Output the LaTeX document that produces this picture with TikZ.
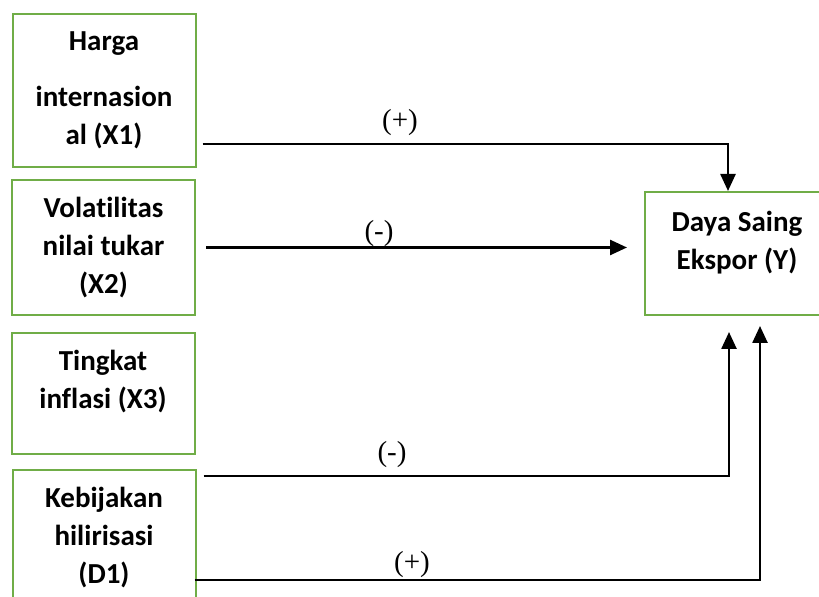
\documentclass[tikz,border=0pt]{standalone}
\usepackage{fontspec}
\setmainfont{Carlito}[Ligatures=NoCommon]
\newfontfamily\signfont{Liberation Serif}
\usetikzlibrary{arrows.meta}
\definecolor{boxgreen}{HTML}{70AD47}

\begin{document}
\begin{tikzpicture}[x=0.5pt, y=-0.5pt,
    varbox/.style={draw=boxgreen, line width=1pt, align=center, minimum width=91.5pt,
        font=\fontsize{14.5}{19}\selectfont\bfseries},
    link/.style={line width=1.25pt, -{Triangle[length=8.5pt, width=7.5pt]}},
    sign/.style={font=\signfont\fontsize{14.5}{16}\selectfont}]
    \path[use as bounding box, clip] (0, 0) rectangle (819, 597);

    % The variables
    \node[varbox, minimum height=76.5pt] (x1) at (104, 90.5) {Harga\\[9pt]internasion\\al (X1)};
    \node[varbox, minimum height=67.5pt] (x2) at (103.5, 247.5) {Volatilitas\\nilai tukar\\(X2)};
    \node[varbox, minimum height=60.5pt, text depth=14.5pt] (x3) at (103, 393.5) {Tingkat\\inflasi (X3)};
    \node[varbox, minimum height=68pt] (d1) at (104, 538) {Kebijakan\\hilirisasi\\(D1)};
    \node[varbox, minimum width=92pt, minimum height=61.5pt, text depth=13pt] (y) at (737, 253.5) {Daya Saing\\Ekspor (Y)};

    % Links into Y
    \coordinate (p1) at ([xshift=3pt, yshift=12pt]x1.south east);
    \draw[link] (p1) -| ([xshift=-4.5pt]y.north);
    \draw[link, shorten <=5pt, shorten >=8.5pt] (x2.east) -- (x2.east -| y.west);
    \coordinate (p3) at ([xshift=3.5pt, yshift=-3.5pt]d1.north east);
    \draw[link] (p3) -| ([xshift=-4pt, yshift=-8pt]y.south);
    \coordinate (p4) at ([xshift=-1pt, yshift=-21pt]d1.east);
    \draw[link] (p4) -| ([xshift=11.5pt, yshift=-5pt]y.south);

    % Signs
    \node[sign] (s1) at (400, 123) {(+)};
    \node[sign] (s2) at (379, 234) {(-)};
    \node[sign] (s3) at (392, 455) {(-)};
    \node[sign] (s4) at (412, 565) {(+)};
\end{tikzpicture}
\end{document}
